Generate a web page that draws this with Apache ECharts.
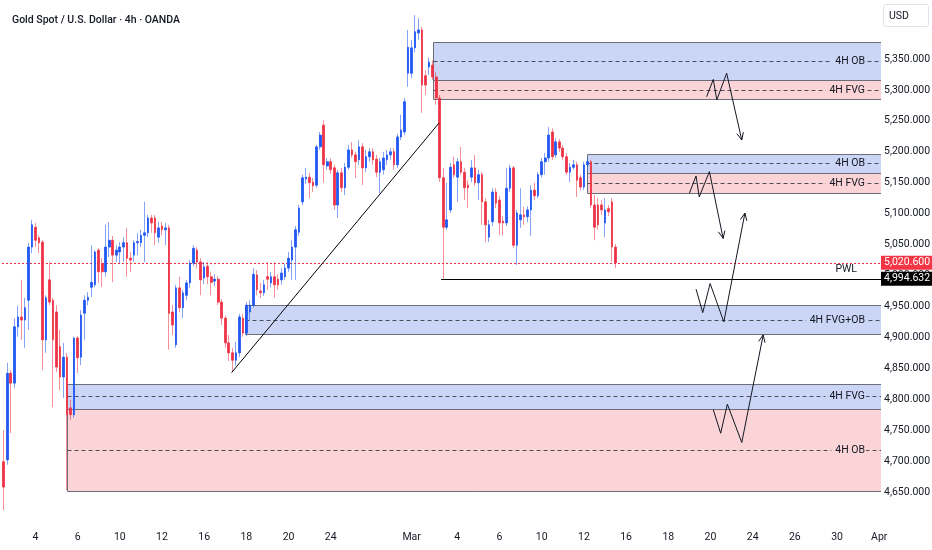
<!DOCTYPE html>
<html><head><meta charset="utf-8">
<script src="https://cdn.jsdelivr.net/npm/echarts@6.0.0/dist/echarts.min.js"></script>
<style>html,body{margin:0;padding:0;background:#fff}#c{width:932px;height:550px}</style>
</head><body><div id="c"></div>
<script>
const titleText = 'Gold Spot / U.S. Dollar · 4h · OANDA';
// [open, close, low, high] per 4h bar
const ohlc = [
[4699,4658,4621,4750],[4702,4842,4694,4859],[4842,4826,4745,4847],[4826,4917,4818,4931],[4917,4933,4901,4951],
[4933,4928,4896,4993],[4928,4948,4883,4964],[4960,5046,4912,5053],[5046,5082,5036,5090],[5078,5057,5046,5085],
[5061,5053,5036,5065],[5054,4896,4847,5057],[4896,4964,4875,4968],[4993,4957,4952,5022],[4960,4896,4787,4964],
[4941,4852,4844,4952],[4885,4836,4815,4912],[4836,4868,4802,4891],[4868,4775,4653,4875],[4786,4775,4767,4799],
[4775,4899,4770,4901],[4899,4867,4842,4902],[4868,4936,4855,4944],[4939,4960,4896,4968],[4960,4965,4952,4973],
[4981,4989,4965,5049],[4985,5038,4981,5041],[5041,5006,4988,5044],[5019,5006,4981,5028],[5006,5046,4998,5082],
[5046,5057,5030,5086],[5057,5033,4989,5064],[5033,5041,5022,5049],[5038,5046,5020,5054],[5046,5053,5022,5062],
[5053,5028,4998,5077],[5028,5025,5006,5038],[5033,5053,5022,5057],[5053,5055,5033,5069],[5053,5065,5046,5074],
[5065,5069,5022,5119],[5069,5093,5062,5098],[5093,5085,5069,5098],[5093,5069,5049,5098],[5062,5077,5053,5087],
[5080,5074,5065,5087],[5074,5077,5049,5085],[5077,4939,4880,5082],[4941,4920,4904,4952],[4888,4980,4883,4985],
[4980,4948,4941,4998],[4948,4972,4931,4977],[4968,4988,4960,4993],[4988,5020,4980,5025],[5020,5044,5015,5049],
[5041,5022,5012,5046],[5022,4993,4968,5028],[4996,5014,4986,5022],[5015,4998,4986,5022],[4998,4989,4968,5006],
[4991,4994,4983,5002],[4994,4957,4952,4999],[4957,4931,4920,4962],[4931,4891,4883,4935],[4891,4875,4862,4904],
[4875,4863,4844,4883],[4863,4875,4854,4893],[4875,4933,4868,4938],[4931,4907,4901,4938],[4907,4952,4902,4957],
[4941,4952,4928,4960],[4952,5002,4948,5012],[5001,4977,4968,5009],[4975,4972,4964,4988],[4972,4985,4967,4993],
[4998,4994,4977,5022],[4988,4998,4981,5006],[4998,4985,4964,5022],[4994,4985,4977,5002],[4993,5004,4985,5012],
[4998,5012,4993,5019],[5012,5028,5006,5038],[5025,5046,4993,5057],[5046,5074,4993,5080],[5070,5109,5064,5114],
[5119,5158,5114,5163],[5156,5159,5148,5174],[5159,5150,5125,5166],[5151,5145,5135,5158],[5146,5208,5142,5211],
[5208,5227,5203,5232],[5243,5179,5150,5251],[5177,5184,5171,5190],[5184,5171,5164,5190],[5174,5114,5106,5179],
[5114,5166,5093,5171],[5166,5142,5135,5174],[5142,5175,5130,5182],[5175,5203,5171,5211],[5203,5195,5190,5216],
[5195,5184,5158,5200],[5187,5208,5179,5219],[5208,5174,5146,5214],[5174,5192,5167,5203],[5192,5200,5184,5206],
[5200,5187,5179,5206],[5188,5167,5159,5195],[5167,5184,5133,5190],[5171,5190,5163,5200],[5187,5195,5179,5203],
[5195,5200,5187,5206],[5200,5179,5171,5206],[5179,5224,5174,5229],[5224,5235,5219,5260],[5232,5281,5227,5287],
[5327,5369,5305,5397],[5327,5368,5319,5381],[5368,5394,5361,5421],[5392,5397,5381,5416],[5397,5308,5263,5402],
[5323,5308,5292,5332],[5337,5345,5324,5352],[5340,5321,5316,5348],[5321,5287,5276,5329],[5287,5158,5151,5292],
[5158,5078,4995,5174],[5078,5090,5074,5150],[5106,5175,5101,5182],[5179,5163,5158,5192],[5159,5184,5119,5190],
[5184,5167,5163,5208],[5167,5142,5122,5174],[5146,5142,5109,5154],[5159,5174,5151,5187],[5174,5150,5145,5195],
[5150,5163,5122,5171],[5163,5119,5082,5167],[5119,5082,5054,5125],[5062,5082,5054,5090],[5087,5135,5080,5141],
[5135,5117,5109,5141],[5122,5085,5065,5129],[5088,5085,5065,5096],[5085,5141,5080,5174],[5141,5174,5135,5179],
[5174,5049,5044,5177],[5049,5101,5017,5106],[5090,5098,5077,5141],[5098,5095,5082,5111],[5095,5106,5086,5112],
[5106,5138,5064,5146],[5138,5129,5122,5150],[5129,5163,5125,5167],[5163,5184,5158,5190],[5184,5190,5163,5198],
[5190,5227,5184,5240],[5232,5192,5187,5238],[5195,5216,5190,5222],[5216,5206,5200,5221],[5206,5192,5187,5211],
[5192,5167,5163,5198],[5167,5175,5151,5182],[5175,5179,5171,5187],[5179,5154,5127,5184],[5158,5143,5138,5163],
[5143,5179,5138,5184],[5179,5184,5171,5190],[5184,5114,5109,5187],[5114,5078,5057,5130],[5114,5082,5074,5125],
[5114,5106,5098,5122],[5085,5106,5062,5125],[5108,5103,5096,5114],[5119,5046,5022,5125],[5046,5020.6,5012,5051]
];
const tickDates = ['2026-02-04 00','2026-02-06 00','2026-02-10 00','2026-02-12 00','2026-02-16 00','2026-02-18 00','2026-02-20 00','2026-02-24 00','2026-03-01 20','2026-03-04 00','2026-03-06 00','2026-03-10 00','2026-03-12 00','2026-03-16 00','2026-03-18 00','2026-03-20 00','2026-03-24 00','2026-03-26 00','2026-03-30 00','2026-04-01 00'];
const tickTexts = ['4','6','10','12','16','18','20','24','Mar','4','6','10','12','16','18','20','24','26','30','Apr'];
const priceTicks = [4650,4700,4750,4800,4850,4900,4950,5000,5050,5100,5150,5200,5250,5300,5350];
const lastPrice = 5020.6;
const pwlPrice = 4994.632;
const pwlStart = 124.4;
const zoneNames = ['4H OB','4H FVG','4H OB','4H FVG','4H FVG+OB','4H FVG','4H OB'];
const zoneTones = ['blue','red','blue','red','blue','blue','red'];
const zoneStart = [122,122,166,166,68.6,17.9,17.9];
const zoneLow  = [5316,5285,5166,5133,4905,4784,4652];
const zoneHigh = [5378,5316,5197,5166,4952,4825,4784];
const trendLine = [[64.8,4843],[123.8,5246.6]];
const zigzags = [
 [[199.9,5289],[201.8,5317],[202.8,5284],[205.6,5327],[209.9,5219]],
 [[195.0,5133],[196.9,5161],[197.8,5127],[200.7,5168],[204.6,5060]],
 [[196.9,4978],[198.8,4940],[200.9,4987],[204.8,4925],[210.8,5101]],
 [[201.8,4783],[203.9,4745],[205.8,4792],[209.9,4730],[216.0,4904]]
];

// time categories: 4h bars, trading session Sun 20:00 .. Fri 16:00
const categories = [];
(function(){
  const hours = [[20],[0,4,8,12,16,20],[0,4,8,12,16,20],[0,4,8,12,16,20],[0,4,8,12,16,20],[0,4,8,12,16],[]];
  const t0 = Date.UTC(2026,1,2);
  const p = n => String(n).padStart(2,'0');
  for (let t = t0; categories.length < 250; t += 86400000) {
    const d = new Date(t);
    for (const h of hours[d.getUTCDay()]) {
      if (t === t0 && h < 12) continue;
      if (categories.length < 250) categories.push(d.getUTCFullYear()+'-'+p(d.getUTCMonth()+1)+'-'+p(d.getUTCDate())+' '+p(h));
    }
  }
})();

const FONT = "Roboto,'Liberation Sans',sans-serif";
const FS = 10.5;
const TXT = '#131722';
const UP = '#2157f2', DOWN = '#ef3346';
const UPW = 'rgba(33,87,242,0.55)', DOWNW = 'rgba(239,51,70,0.55)';
const TONE = {blue:'#cbd6f6', red:'#fad4d7'};
const BORDER = '#6b6e78';
const fmtPrice = v => Number(v).toLocaleString('en-US',{minimumFractionDigits:3,maximumFractionDigits:3});
const bodies = ohlc.map(d => [d[0], d[1], Math.min(d[0],d[1]), Math.max(d[0],d[1])]);
const crisp = v => Math.round(v) + 0.5;
const tagLabel = (v,bg) => ({show:true,position:'end',distance:0,formatter:fmtPrice(v),color:'#fff',backgroundColor:bg,padding:[2,3,1,3],fontFamily:FONT,fontSize:FS});

const chart = echarts.init(document.getElementById('c'), null, {renderer:'canvas'});
chart.setOption({
  animation:false,
  backgroundColor:'#ffffff',
  title:{text:titleText,left:7,top:10,textStyle:{fontFamily:FONT,fontSize:FS,fontWeight:500,color:TXT}},
  grid:{left:2,right:51,top:0,bottom:28,containLabel:false,outerBoundsMode:'none'},
  xAxis:[
    {type:'category',data:categories,boundaryGap:true,
     axisLine:{show:false},axisTick:{show:false},splitLine:{show:false},
     axisLabel:{interval:(i,v)=>tickDates.indexOf(v)>=0,
       formatter:v=>{const k=tickDates.indexOf(v);return k>=0?tickTexts[k]:'';},
       color:TXT,fontFamily:FONT,fontSize:FS,margin:10}},
    {type:'value',min:-0.5,max:categories.length-0.5,show:false}
  ],
  yAxis:{type:'value',position:'right',min:4601.5,max:5445.4,
    splitLine:{show:false},axisLine:{show:false},axisTick:{show:false},
    axisLabel:{customValues:priceTicks,formatter:fmtPrice,color:TXT,fontFamily:FONT,fontSize:FS,margin:3}},
  graphic:[{type:'group',left:883,top:4,children:[
    {type:'rect',shape:{x:0.5,y:0.5,width:45,height:22,r:2},style:{fill:'#fff',stroke:'#e0e3eb',lineWidth:1}},
    {type:'text',x:6,y:12,style:{text:'USD',fill:TXT,fontFamily:FONT,fontSize:FS,verticalAlign:'middle'}}
  ]}],
  series:[
    {type:'custom',name:'zones',xAxisIndex:1,yAxisIndex:0,z:1,clip:true,
     data:zoneStart.map((s,i)=>[s,zoneLow[i],zoneHigh[i],i]),
     renderItem:(params,api)=>{
       const k=api.value(3);
       const tl=api.coord([api.value(0),api.value(2)]);
       const br=api.coord([api.value(0),api.value(1)]);
       const cs=params.coordSys; const right=cs.x+cs.width;
       const x0=crisp(tl[0]), y0=crisp(tl[1]), y1=crisp(br[1]); const mid=crisp((tl[1]+br[1])/2);
       const fill=TONE[zoneTones[k]];
       return {type:'group',children:[
         {type:'rect',shape:{x:x0,y:y0,width:right-x0,height:y1-y0},style:{fill:fill}},
         {type:'line',shape:{x1:x0,y1:y0,x2:right,y2:y0},style:{stroke:BORDER,lineWidth:1}},
         {type:'line',shape:{x1:x0,y1:y1,x2:right,y2:y1},style:{stroke:BORDER,lineWidth:1}},
         {type:'line',shape:{x1:x0,y1:y0,x2:x0,y2:y1},style:{stroke:BORDER,lineWidth:1}},
         {type:'line',shape:{x1:x0,y1:mid,x2:right,y2:mid},style:{stroke:'#4a4d57',lineWidth:1,lineDash:[4,3]}},
         {type:'text',x:right-15,y:mid,style:{text:zoneNames[k],align:'right',verticalAlign:'middle',fill:TXT,
           fontFamily:FONT,fontSize:FS,backgroundColor:fill,padding:[1,1,1,4]}}
       ]};
     }},
    {type:'custom',name:'price line',xAxisIndex:1,yAxisIndex:0,z:2,clip:true,
     data:[[-0.5,lastPrice]],
     renderItem:(params,api)=>{
       const p=api.coord([api.value(0),api.value(1)]);
       const cs=params.coordSys; const y=crisp(p[1]);
       return {type:'line',shape:{x1:cs.x,y1:y,x2:cs.x+cs.width,y2:y},style:{stroke:'#f0283c',lineWidth:1,lineDash:[2,2]}};
     }},
    {type:'candlestick',name:'wicks',xAxisIndex:0,yAxisIndex:0,z:2,barWidth:'30%',data:ohlc,
     itemStyle:{color:UPW,color0:DOWNW,borderColor:UPW,borderColor0:DOWNW,borderWidth:1}},
    {type:'candlestick',name:'XAUUSD',xAxisIndex:0,yAxisIndex:0,z:3,barWidth:'60%',data:bodies,
     itemStyle:{color:UP,color0:DOWN,borderColor:UP,borderColor0:DOWN,borderWidth:0.8},
     markLine:{silent:true,symbol:['none','none'],animation:false,precision:3,
       lineStyle:{color:'rgba(0,0,0,0)',width:1},
       data:[
         {yAxis:lastPrice,lineStyle:{color:'rgba(0,0,0,0)'},label:tagLabel(lastPrice,'#f23645')},
         {yAxis:pwlPrice,lineStyle:{color:'rgba(0,0,0,0)'},label:tagLabel(pwlPrice,'#000000')}
       ]}},
    {type:'custom',name:'PWL',xAxisIndex:1,yAxisIndex:0,z:4,clip:true,
     data:[[pwlStart,pwlPrice]],
     renderItem:(params,api)=>{
       const p=api.coord([api.value(0),api.value(1)]);
       const cs=params.coordSys; const right=cs.x+cs.width; const y=crisp(p[1]);
       return {type:'group',children:[
         {type:'line',shape:{x1:p[0],y1:y,x2:right,y2:y},style:{stroke:'#000',lineWidth:1}},
         {type:'text',x:right-24,y:y-5,style:{text:'PWL',align:'right',verticalAlign:'bottom',fill:TXT,fontFamily:FONT,fontSize:FS}}
       ]};
     }},
    {type:'line',name:'trend',xAxisIndex:1,yAxisIndex:0,z:4,data:trendLine,symbol:'none',
     lineStyle:{color:'#000',width:1}},
    {type:'custom',name:'paths',xAxisIndex:1,yAxisIndex:0,z:5,clip:false,
     data:zigzags.map((z,i)=>[z[0][0],z[0][1],i]),
     renderItem:(params,api)=>{
       const pts=zigzags[api.value(2)].map(q=>api.coord(q));
       const n=pts.length, a=pts[n-1], b=pts[n-2];
       const ang=Math.atan2(a[1]-b[1],a[0]-b[0]); const L=8, w=0.42;
       const h1=[a[0]-L*Math.cos(ang-w),a[1]-L*Math.sin(ang-w)];
       const h2=[a[0]-L*Math.cos(ang+w),a[1]-L*Math.sin(ang+w)];
       return {type:'group',children:[
         {type:'polyline',shape:{points:pts},style:{stroke:'#131722',lineWidth:1,fill:null}},
         {type:'polyline',shape:{points:[h1,a,h2]},style:{stroke:'#131722',lineWidth:1,fill:null}}
       ]};
     }}
  ]
});
</script></body></html>
